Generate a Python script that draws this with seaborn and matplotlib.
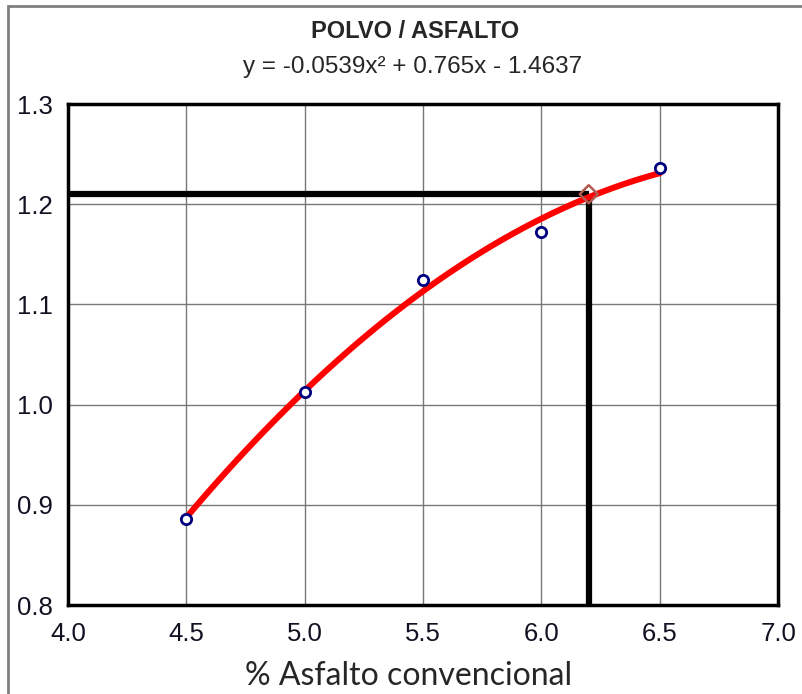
import numpy as np
import matplotlib.pyplot as plt
import matplotlib.patches as mpatches
import seaborn as sns

sns.set_theme(style = 'white')
plt.rcParams['font.family'] = ['Liberation Sans', 'DejaVu Sans']

# measured points
asfalto = [4.5, 5.0, 5.5, 6.0, 6.5]
polvo_asfalto = [0.886, 1.013, 1.124, 1.172, 1.236]

# design point read on the curve
asfalto_diseno = 6.2
ratio_diseno = 1.21

x_ticks = [4.0, 4.5, 5.0, 5.5, 6.0, 6.5, 7.0]
y_ticks = [0.8, 0.9, 1.0, 1.1, 1.2, 1.3]

titulo = 'POLVO / ASFALTO'
ecuacion = 'y = -0.0539x² + 0.765x - 1.4637'
x_label = '% Asfalto convencional'


fig = plt.figure(figsize = (8.02, 6.94), dpi = 100)
ax = fig.add_axes([0.0848, 0.1282, 0.8854, 0.7219])

ax.set_xlim(4.0, 7.0)
ax.set_ylim(0.8, 1.3)
ax.set_xticks(x_ticks)
ax.set_yticks(y_ticks)
ax.set_xticklabels([f'{v:.1f}' for v in x_ticks], fontsize = 18.5)
ax.set_yticklabels([f'{v:.1f}' for v in y_ticks], fontsize = 18.5)
ax.grid(True, color = '#777777', linewidth = 1.0)
ax.tick_params(axis = 'both', length = 5, width = 1, color = '#888888', pad = 6, labelcolor = '#111122')
ax.tick_params(axis = 'x', pad = 7)

for side in ax.spines.values():
    side.set_color('black')
    side.set_linewidth(2.5)

# design lines
ax.plot([x_ticks[0], asfalto_diseno], [ratio_diseno, ratio_diseno], color = 'black', linewidth = 4.5, solid_capstyle = 'butt', zorder = 3)
ax.plot([asfalto_diseno, asfalto_diseno], [y_ticks[0], ratio_diseno], color = 'black', linewidth = 4.5, solid_capstyle = 'butt', zorder = 3)

# second order trend line
sns.regplot(x = asfalto, y = polvo_asfalto, order = 2, ci = None, scatter = False, truncate = True,
            line_kws = {'color': 'red', 'linewidth': 4.4, 'zorder': 4}, ax = ax)

sns.scatterplot(x = asfalto, y = polvo_asfalto, marker = 'o', s = 55, facecolor = 'white',
                edgecolor = '#00007f', linewidth = 2.0, zorder = 5, ax = ax)

ax.scatter([asfalto_diseno], [ratio_diseno], marker = 'D', s = 85, facecolor = 'none',
           edgecolor = '#b05a50', linewidth = 1.8, zorder = 5)

ax.set_xlabel(x_label, fontsize = 23, family = ['Lato', 'DejaVu Sans'])
ax.xaxis.set_label_coords(0.479, -0.112)
ax.set_ylabel('')

fig.text(0.518, 0.955, titulo, ha = 'center', va = 'center', fontsize = 17, fontweight = 'bold')
fig.text(0.514, 0.903, ecuacion, ha = 'center', va = 'center', fontsize = 17.5)

# outer frame of the original sheet
fig.patches.append(mpatches.Rectangle((8 / 802, -0.1), 1.2, 1.1 - 6 / 694, transform = fig.transFigure,
                                      fill = False, edgecolor = '#808080', linewidth = 2))

fig.savefig('out.png', dpi = 100)
